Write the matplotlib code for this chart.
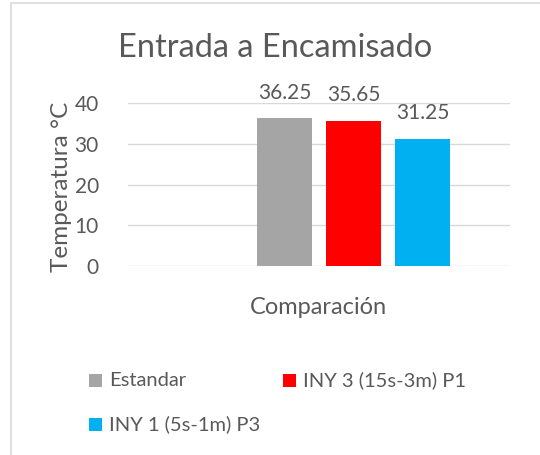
import matplotlib
matplotlib.use("Agg")
import matplotlib.pyplot as plt
from matplotlib.patches import Rectangle

series = ["Estandar", "INY 3 (15s-3m) P1", "INY 1 (5s-1m) P3"]
values = [36.25, 35.65, 31.25]
colors = ["#A5A5A5", "#FF0000", "#00B0F0"]
category = "Comparación"
yticks = [0, 10, 20, 30, 40]

plt.rcParams['font.family'] = ['Lato', 'DejaVu Sans']
txt = "#595959"

W, H = 540, 455
fig = plt.figure(figsize=(W/100, H/100), dpi=100)
fig.patches.append(Rectangle((11/W, -0.1), 1.2, 1 - 3/H + 0.1, transform=fig.transFigure,
                             fill=False, edgecolor="#D9D9D9", linewidth=1.2))

ax = fig.add_axes([128/W, 1 - 266/H, (510-128)/W, (266-103)/H])
slot = 69/382
bw = 55/382
# Excel leaves an empty first slot (4 slots, first one empty)
offsets = [-0.5*slot, 0.5*slot, 1.5*slot]
for off, v, c, name in zip(offsets, values, colors, series):
    ax.bar(off, v, width=bw, color=c, label=name, zorder=3)
    ax.annotate(f"{v:.2f}", (off, v), xytext=(0, 11), textcoords="offset points",
                ha="center", va="bottom", fontsize=15, color=txt, annotation_clip=False)

ax.set_xlim(-0.5, 0.5)
ax.set_ylim(0, 40)
ax.set_yticks(yticks)
ax.set_xticks([])
ax.tick_params(axis="y", length=0, labelsize=15, labelcolor=txt, pad=21)
for s in ax.spines.values():
    s.set_visible(False)
ax.grid(axis="y", color="#D9D9D9", linewidth=1, zorder=0)
ax.set_axisbelow(True)

fig.text(62/W, 1 - 187/H, "Temperatura °C", rotation=90, ha="center", va="center", fontsize=17.5, color=txt)
fig.text(318/W, 1 - 307/H, category, ha="center", va="center", fontsize=17, color=txt)
fig.text(275/W, 1 - 48/H, "Entrada a Encamisado", ha="center", va="center", fontsize=23.5, color=txt)

# legend
leg_items = [(89, 380), (283, 380), (89, 424)]
for (lx, ly), c, name in zip(leg_items, colors, series):
    fig.patches.append(Rectangle((lx/W, 1 - (ly+6.5)/H), 13/W, 13/H, transform=fig.transFigure,
                                 facecolor=c, edgecolor="none"))
    fig.text((lx+20)/W, 1 - ly/H, name, ha="left", va="center", fontsize=14.5, color=txt)

fig.savefig("out.png", dpi=100)
